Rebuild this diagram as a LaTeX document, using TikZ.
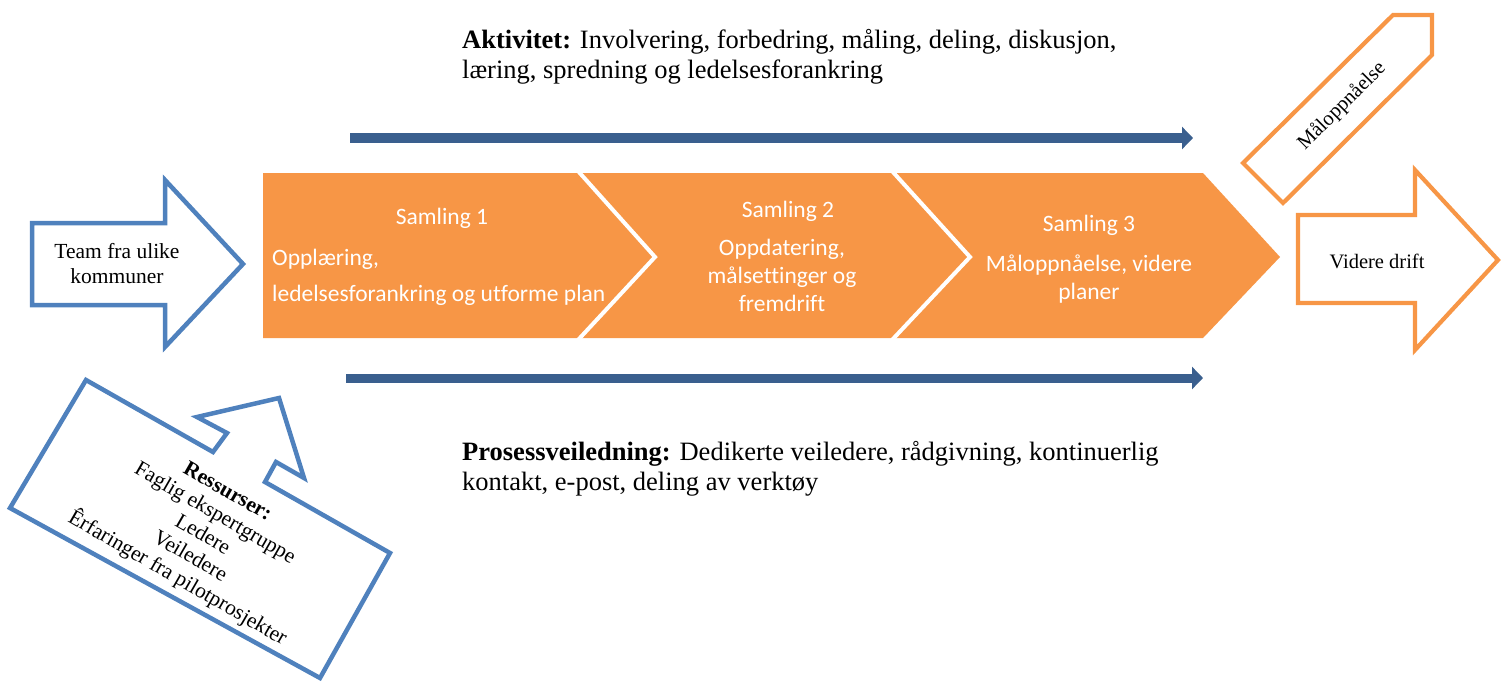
\documentclass[tikz,border=0pt]{standalone}
\usepackage{fontspec}
\setmainfont{Liberation Serif}
\newfontfamily\calibri[Ligatures=NoCommon]{Carlito}
\usetikzlibrary{arrows.meta}
\definecolor{procorange}{HTML}{F79646}
\definecolor{frameblue}{HTML}{4F81BD}
\definecolor{flowblue}{HTML}{3A5F8E}
\begin{document}
\begin{tikzpicture}[x=1pt,y=-1pt,
  blueframe/.style={draw=frameblue,line width=4.5pt,fill=white,line join=miter},
  orangeframe/.style={draw=procorange,line width=4.2pt,fill=white,line join=miter},
  chevron/.style={fill=procorange},
  gapline/.style={draw=white,line width=4pt},
  flow/.style={draw=flowblue,line width=9pt,-{Triangle[length=11pt,width=22pt]}},
  stagetext/.style={font=\calibri\fontsize{23.5}{28}\selectfont,text=white,inner sep=0pt,anchor=base},
  stageleft/.style={stagetext,anchor=base west},
  bodytext/.style={font=\fontsize{26.5}{30}\selectfont,inner sep=0pt,anchor=base west},
  boxtext/.style={font=\fontsize{21.5}{25}\selectfont,inner sep=0pt,align=center}
]
\useasboundingbox (0,0) rectangle (1509,682);

% process chevrons
\fill[chevron] (263,173) -- (578,173) -- (655,257) -- (578,338) -- (263,338) -- cycle;
\fill[chevron] (578,173) -- (892,173) -- (970,257) -- (892,338) -- (578,338) -- (655,257) -- cycle;
\fill[chevron] (892,173) -- (1203,173) -- (1280,257) -- (1203,338) -- (892,338) -- (970,257) -- cycle;
\draw[gapline] (578,171) -- (655,257) -- (578,340);
\draw[gapline] (892,171) -- (970,257) -- (892,340);

% stage texts
\node[stagetext] (s1title) at (442,224) {Samling 1};
\node[stageleft] (s1a) at (272,265) {Opplæring,};
\node[stageleft] (s1b) at (272,301) {ledelsesforankring og utforme plan};
\node[stagetext] (s2title) at (788,217) {Samling 2};
\node[stagetext] (s2a) at (782,255) {Oppdatering,};
\node[stagetext] (s2b) at (782,283) {målsettinger og};
\node[stagetext] (s2c) at (782,311) {fremdrift};
\node[stagetext] (s3title) at (1089,231) {Samling 3};
\node[stagetext] (s3a) at (1089,271) {Måloppnåelse, videre};
\node[stagetext] (s3b) at (1089,299) {planer};

% input arrow
\draw[blueframe] (32,223) -- (165,223) -- (165,180) -- (243,264) -- (165,347) -- (165,305) -- (32,305) -- cycle;
\node[boxtext] (team) at (117,264) {Team fra ulike\\kommuner};

% output arrow
\draw[orangeframe] (1298,215) -- (1415,215) -- (1415,170) -- (1498,260) -- (1415,350) -- (1415,303) -- (1298,303) -- cycle;
\node[boxtext,font=\fontsize{20.5}{24}\selectfont] (drift) at (1377,261) {Videre drift};

% goal pointer
\draw[orangeframe] (1243,163) -- (1393,15) -- (1432,15) -- (1432,55) -- (1283,203) -- cycle;
\node[boxtext,font=\fontsize{20.5}{24}\selectfont,rotate=45] (maal) at (1342,106) {Måloppnåelse};

% resources callout
\draw[blueframe] (86,380) -- (213,452) -- (227,433) -- (197,417) -- (279,398) -- (304,478)
  -- (276,462) -- (265,482) -- (390,553) -- (320,678) -- (10,508) -- cycle;
\node[boxtext,rotate=-30] (res) at (202,536)
  {\textbf{Ressurser:}\\Faglig ekspertgruppe\\Ledere\\Veiledere\\Êrfaringer fra pilotprosjekter};

% activity and guidance flows
\coordinate (actStart) at (350,138);
\coordinate (actEnd) at (1193,138);
\coordinate (guideStart) at (346,378);
\coordinate (guideEnd) at (1203,378);
\draw[flow] (actStart) -- (actEnd);
\draw[flow] (guideStart) -- (guideEnd);

\node[bodytext] (act1) at (462,49) {\textbf{Aktivitet:} Involvering, forbedring, måling, deling, diskusjon,};
\node[bodytext] (act2) at (462,79) {læring, spredning og ledelsesforankring};
\node[bodytext] (guide1) at (462,460) {\textbf{Prosessveiledning:} Dedikerte veiledere, rådgivning, kontinuerlig};
\node[bodytext] (guide2) at (462,490) {kontakt, e-post, deling av verktøy};
\end{tikzpicture}
\end{document}
